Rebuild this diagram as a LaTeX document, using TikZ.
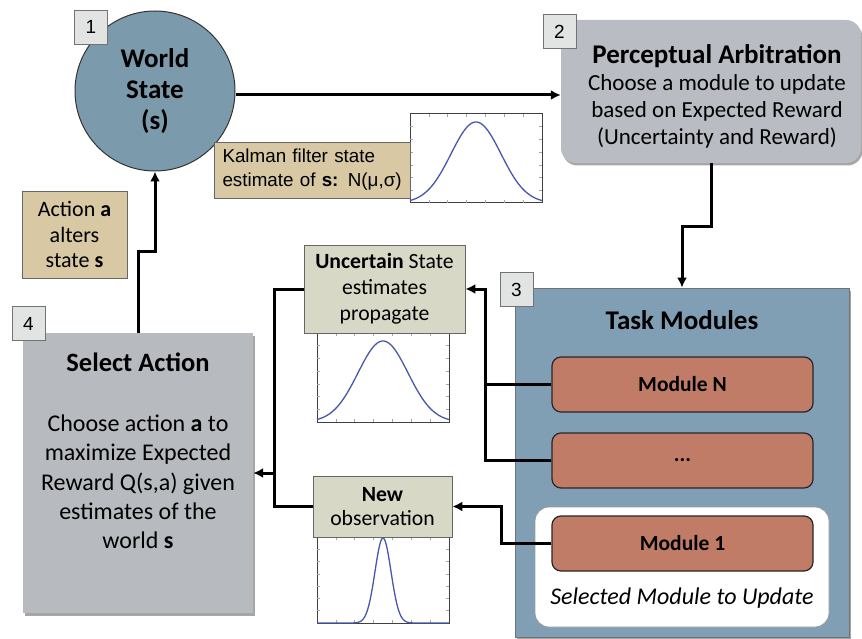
\documentclass[tikz,border=0pt]{standalone}
\usepackage{fontspec}
\setmainfont{Carlito}
\newfontfamily\kalfont{Liberation Sans}
\usetikzlibrary{arrows.meta,shadows,calc}

\definecolor{worldblue}{RGB}{123,155,172}
\definecolor{taskblue}{RGB}{128,159,181}
\definecolor{arbgray}{RGB}{185,188,194}
\definecolor{actgray}{RGB}{183,186,190}
\definecolor{kaltan}{RGB}{216,201,164}
\definecolor{estgreen}{RGB}{215,217,198}
\definecolor{modred}{RGB}{192,124,102}
\definecolor{numgray}{RGB}{226,227,227}
\definecolor{curveblue}{RGB}{72,88,170}

\tikzset{
    line/.style={line width=3pt},
    conn/.style={line width=3pt,-{Latex[length=10pt,width=10pt]}},
    numbox/.style={draw=black!55,fill=numgray,line width=0.8pt,minimum width=33pt,
        minimum height=34pt,inner sep=0pt,font=\kalfont\fontsize{19}{19}\selectfont},
    softshadow/.style={drop shadow={shadow xshift=1.5pt,shadow yshift=-2.5pt,
        fill=black,opacity=0.35}},
    plotframe/.style={draw=black!75,line width=1pt,fill=white},
    plottick/.style={draw=black!35,line width=0.5pt},
    gauss/.style={draw=curveblue,line width=1.3pt}
}

\begin{document}
\begin{tikzpicture}[x=1pt,y=-1pt,
    world/.style={circle,draw=black!80,line width=1pt,fill=worldblue,minimum size=160pt,
        inner sep=0pt,align=center,font=\fontsize{27}{31}\selectfont\bfseries},
    tanbox/.style={rectangle,draw=black!60,line width=0.8pt,fill=kaltan,inner sep=0pt,align=center},
    estbox/.style={rectangle,draw=black!60,line width=0.8pt,fill=estgreen,inner sep=0pt,
        align=center,font=\fontsize{21.7}{26}\selectfont},
    modbox/.style={rectangle,rounded corners=9pt,draw=black!85,line width=1.2pt,fill=modred,
        minimum width=261pt,minimum height=55pt,inner sep=0pt,font=\fontsize{21.5}{21.5}\selectfont\bfseries}]

    \useasboundingbox (0,0) rectangle (862,639);

    % plot with small ticks, #1 = left, #2 = top, #3 = height
    \newcommand{\plotbox}[3]{
        \draw[plotframe] (#1,#2) rectangle ++(132,#3);
        \foreach \t in {1,...,6} {
            \draw[plottick] (#1+\t*132/7,#2) -- ++(0,3);
            \draw[plottick] (#1+\t*132/7,#2+#3) -- ++(0,-3);
            \draw[plottick] (#1,#2+\t*#3/7) -- ++(3,0);
            \draw[plottick] (#1+132,#2+\t*#3/7) -- ++(-3,0);
        }
    }

    % world state
    \node[world] (world) at (155,91) {World\\State\\(s)};

    % perceptual arbitration
    \node[rectangle,rounded corners=15pt,fill=arbgray,softshadow,minimum width=300pt,
        minimum height=143pt,inner sep=0pt] (arb) at (711,91.5) {};
    \node[align=center,font=\fontsize{23}{27}\selectfont] (arbtext) at (717,96)
        {{\fontsize{27}{27}\selectfont\bfseries Perceptual Arbitration}\\
         Choose a module to update\\based on Expected Reward\\(Uncertainty and Reward)};

    % kalman estimate
    \plotbox{410}{114}{89}
    \draw[gauss] plot[domain=-66:66,samples=80] ({476+\x},{203-81*exp(-\x*\x/1250)});
    \node[tanbox,text width=180pt,minimum height=56pt,inner xsep=8pt,align=left,
        font=\kalfont\fontsize{18.8}{24}\selectfont] (kalman) at (312.5,170)
        {Kalman filter state\\estimate of \textbf{s:} N(μ,σ)};

    % action box
    \node[tanbox,minimum width=105pt,minimum height=87pt,font=\fontsize{22}{25.5}\selectfont]
        (actbox) at (74.5,234.5) {Action \textbf{a}\\alters\\state \textbf{s}};

    % select action
    \node[rectangle,fill=actgray,softshadow,minimum width=230pt,minimum height=280pt,
        inner sep=0pt] (select) at (138,473) {};
    \node[font=\fontsize{26.5}{26.5}\selectfont\bfseries] (seltitle) at (138,362) {Select Action};
    \node[align=center,font=\fontsize{24}{29.3}\selectfont] (selbody) at (138,482)
        {Choose action \textbf{a} to\\maximize Expected\\Reward Q(s,a) given\\estimates of the\\world \textbf{s}};

    % task modules
    \node[rectangle,draw=black!55,line width=0.8pt,fill=taskblue,softshadow,minimum width=334pt,
        minimum height=349pt,inner sep=0pt] (task) at (682,462.5) {};
    \node[font=\fontsize{27}{27}\selectfont\bfseries] (tasktitle) at (682,320) {Task Modules};
    \node[modbox] (modN) at (682.5,384.5) {Module N};
    \node[modbox] (modDots) at (682.5,460.5) {...};
    \node[rectangle,rounded corners=14pt,draw=black!40,line width=0.8pt,fill=white,
        minimum width=294pt,minimum height=120pt] (selmod) at (682,567) {};
    \node[modbox] (mod1) at (682.5,543.5) {Module 1};
    \node[font=\fontsize{24}{24}\selectfont\itshape] (seltext) at (682,598) {Selected Module to Update};

    % state estimates
    \plotbox{317}{333}{89}
    \draw[gauss] plot[domain=-66:66,samples=80] ({383+\x},{422-81*exp(-\x*\x/1250)});
    \node[estbox,minimum width=161pt,minimum height=88pt] (uncert) at (384.5,289)
        {\textbf{Uncertain} State\\estimates\\propagate};

    \plotbox{317}{537}{86}
    \draw[gauss] (317,623) -- (353,623)
        plot[domain=-30:30,samples=80] ({383+\x},{623-85*exp(-\x*\x/128)}) -- (449,623);
    \node[estbox,minimum width=139pt,minimum height=61pt,font=\fontsize{21.7}{24}\selectfont]
        (newobs) at (382.5,506.5) {\textbf{New}\\observation};

    % connectors
    \draw[conn] (world.east |- 0,95) -- (arb.west |- 0,95);
    \draw[conn] (arb.south) -- ++(0,63) -| (task.north);
    \coordinate (busR) at ($(modDots.west)+(-66,0)$);
    \draw[conn] (modDots.west) -- (busR) |- (uncert.east);
    \draw[line] (modN.west) -- (modN.west -| busR);
    \draw[conn] (mod1.west) -- ++(-50,0) |- (newobs.east);
    \coordinate (busL) at ($(uncert.west)+(-29,0)$);
    \draw[line] (uncert.west) -- (busL) |- (newobs.west);
    \draw[conn] (busL |- select.east) -- (select.east);
    \draw[conn] (select.north) -- ++(0,-81) -| (world.south);

    % step numbers
    \node[numbox] (n1) at (91,27) {1};
    \node[numbox] (n2) at (559.5,31.5) {2};
    \node[numbox] (n3) at (516.5,289.5) {3};
    \node[numbox] (n4) at (28.5,323.5) {4};

\end{tikzpicture}
\end{document}
